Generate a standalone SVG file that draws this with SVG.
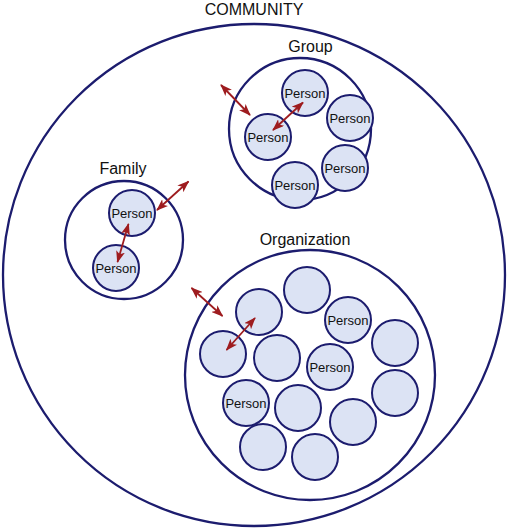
<svg xmlns="http://www.w3.org/2000/svg" width="507" height="529" viewBox="0 0 507 529">
<style>
.ring{fill:none;stroke:#1c1c6e;stroke-width:2.3}
.p{fill:#dce3f4;stroke:#1c1c6e;stroke-width:2}
.t{font-family:"Liberation Sans",Arial,sans-serif;fill:#111;text-anchor:middle}
.pt{font-size:13px}
.lt{font-size:16px}
.a{stroke:#9e1c1f;stroke-width:1.8;fill:none;marker-start:url(#h);marker-end:url(#h)}
</style>
<defs>
<marker id="h" viewBox="0 0 12 9" refX="11" refY="4.5" markerWidth="12" markerHeight="9" markerUnits="userSpaceOnUse" orient="auto-start-reverse">
<path d="M0,0 L12,4.5 L0,9 L3,4.5 Z" fill="#9e1c1f"/>
</marker>
</defs>
<rect width="507" height="529" fill="#fff"/>
<g id="community">
<circle class="ring" cx="254" cy="275" r="251"/>
<text class="t lt" x="254" y="15">COMMUNITY</text>
</g>
<g id="group">
<circle class="ring" cx="300" cy="129" r="71"/>
<text class="t lt" x="310.5" y="52">Group</text>
<g><circle class="p" cx="305" cy="93" r="23"/><text class="t pt" x="305" y="97.5">Person</text></g>
<g><circle class="p" cx="350" cy="118" r="23"/><text class="t pt" x="350" y="122.5">Person</text></g>
<g><circle class="p" cx="268" cy="137" r="23"/><text class="t pt" x="268" y="141.5">Person</text></g>
<g><circle class="p" cx="345" cy="168" r="23"/><text class="t pt" x="345" y="172.5">Person</text></g>
<g><circle class="p" cx="295" cy="185" r="23"/><text class="t pt" x="295" y="189.5">Person</text></g>
</g>
<g id="family">
<circle class="ring" cx="124" cy="240" r="59"/>
<text class="t lt" x="123" y="174">Family</text>
<g><circle class="p" cx="132" cy="213" r="23"/><text class="t pt" x="132" y="217.5">Person</text></g>
<g><circle class="p" cx="116" cy="268" r="23"/><text class="t pt" x="116" y="272.5">Person</text></g>
</g>
<g id="organization">
<circle class="ring" cx="310" cy="375" r="125"/>
<text class="t lt" x="305" y="245">Organization</text>
<circle class="p" cx="307" cy="290" r="23"/>
<circle class="p" cx="259" cy="312" r="23"/>
<g><circle class="p" cx="348" cy="320" r="23"/><text class="t pt" x="348" y="324.5">Person</text></g>
<circle class="p" cx="395" cy="343" r="23"/>
<circle class="p" cx="223" cy="354" r="23"/>
<circle class="p" cx="277" cy="358" r="23"/>
<g><circle class="p" cx="330" cy="367" r="23"/><text class="t pt" x="330" y="371.5">Person</text></g>
<circle class="p" cx="395" cy="393" r="23"/>
<g><circle class="p" cx="246" cy="403" r="23"/><text class="t pt" x="246" y="407.5">Person</text></g>
<circle class="p" cx="298" cy="408" r="23"/>
<circle class="p" cx="353" cy="422" r="23"/>
<circle class="p" cx="263" cy="447" r="23"/>
<circle class="p" cx="315" cy="457" r="23"/>
</g>
<g id="connectors">
<line class="a" x1="221" y1="85" x2="250" y2="115"/>
<line class="a" x1="303" y1="102.5" x2="273" y2="130"/>
<line class="a" x1="157" y1="210" x2="188.5" y2="181.5"/>
<line class="a" x1="128.5" y1="224" x2="117.5" y2="262"/>
<line class="a" x1="191.5" y1="288" x2="222.5" y2="316"/>
<line class="a" x1="255" y1="318" x2="226.5" y2="350"/>
</g>
</svg>
